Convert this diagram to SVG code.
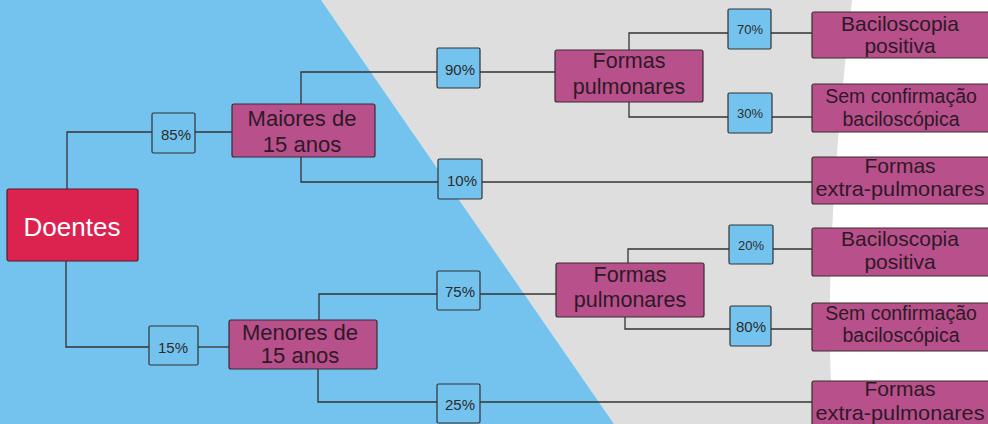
<svg xmlns="http://www.w3.org/2000/svg" width="988" height="424" viewBox="0 0 988 424">
<style>
.lnk{fill:none;stroke:#333;stroke-width:1.3}
.pct{fill:#74c3ef;stroke:#333;stroke-width:1.2}
.pt{font-family:"Liberation Sans",Arial,sans-serif;font-size:15px;fill:#2b2b2b;text-anchor:middle}
.pts{font-size:13px}
.mg{fill:#b8508c;stroke:#3a2a30;stroke-width:1.2}
.mt{font-family:"Liberation Sans",Arial,sans-serif;font-size:21px;fill:#2e1a26;text-anchor:middle}
.ml{font-size:22px}
.mp{font-size:21.5px}
.ms{font-size:19.5px}
</style>
<rect x="0" y="0" width="988" height="424" fill="#ffffff"/>
<path d="M321,0 H852 C838,120 822,300 834,424 H614 Z" fill="#dedede"/>
<path d="M0,0 H321 L614,424 H0 Z" fill="#74c3ef"/>
<g id="connectors">
<path class="lnk" d="M67,189 V132 H152"/>
<path class="lnk" d="M195,132 H232"/>
<path class="lnk" d="M301,104 V72 H437"/>
<path class="lnk" d="M480,72 H555"/>
<path class="lnk" d="M629,50 V33 H728"/>
<path class="lnk" d="M771,33 H812"/>
<path class="lnk" d="M629,102 V117 H728"/>
<path class="lnk" d="M772,117 H812"/>
<path class="lnk" d="M301,157 V182 H438"/>
<path class="lnk" d="M482,182 H812"/>
<path class="lnk" d="M66,261 V347 H149"/>
<path class="lnk" d="M198,347 H229"/>
<path class="lnk" d="M319,320 V294 H437"/>
<path class="lnk" d="M480,294 H556"/>
<path class="lnk" d="M628,263 V249 H729"/>
<path class="lnk" d="M773,249 H812"/>
<path class="lnk" d="M625,317 V329 H730"/>
<path class="lnk" d="M771,329 H812"/>
<path class="lnk" d="M318,369 V402 H437"/>
<path class="lnk" d="M480,402 H812"/>
</g>
<g id="doentes">
<rect x="7" y="189" width="131" height="72" rx="2" fill="#dc2350" stroke="#5a1a2a" stroke-width="1.2"/>
<text x="72" y="236" font-family="'Liberation Sans',Arial,sans-serif" font-size="26" fill="#ffffff" text-anchor="middle">Doentes</text>
</g>
<g id="p85"><rect class="pct" x="152" y="113" width="43" height="40" rx="1.5"/><text class="pt" x="176" y="140">85%</text></g>
<g id="maiores"><rect class="mg" x="232" y="104" width="143" height="53" rx="2"/><text class="mt ml" x="302" y="126">Maiores de</text><text class="mt ml" x="302" y="152">15 anos</text></g>
<g id="p90"><rect class="pct" x="437" y="48" width="43" height="40" rx="1.5"/><text class="pt" x="460" y="75">90%</text></g>
<g id="p10"><rect class="pct" x="438" y="159" width="44" height="40" rx="1.5"/><text class="pt" x="462" y="186">10%</text></g>
<g id="formas1"><rect class="mg" x="555" y="50" width="148" height="52" rx="2"/><text class="mt mp" x="629" y="68">Formas</text><text class="mt mp" x="629" y="94">pulmonares</text></g>
<g id="p70"><rect class="pct" x="728" y="9" width="43" height="40" rx="1.5"/><text class="pt pts" x="750" y="34">70%</text></g>
<g id="p30"><rect class="pct" x="728" y="93" width="44" height="40" rx="1.5"/><text class="pt pts" x="750" y="118">30%</text></g>
<g id="bacilo1"><rect class="mg" x="812" y="12" width="186" height="46" rx="2"/><text class="mt" x="900" y="31">Baciloscopia</text><text class="mt" x="900" y="53">positiva</text></g>
<g id="sem1"><rect class="mg" x="812" y="84" width="186" height="48" rx="2"/><text class="mt ms" x="901" y="103">Sem confirmação</text><text class="mt ms" x="901" y="126">baciloscópica</text></g>
<g id="extra1"><rect class="mg" x="812" y="157" width="186" height="47" rx="2"/><text class="mt" x="900" y="173">Formas</text><text class="mt" x="900" y="196" textLength="169" lengthAdjust="spacingAndGlyphs">extra-pulmonares</text></g>
<g id="p15"><rect class="pct" x="149" y="326" width="49" height="39" rx="1.5"/><text class="pt" x="173" y="353">15%</text></g>
<g id="menores"><rect class="mg" x="229" y="320" width="148" height="49" rx="2"/><text class="mt ml" x="300" y="340">Menores de</text><text class="mt ml" x="300" y="363">15 anos</text></g>
<g id="p75"><rect class="pct" x="437" y="271" width="43" height="39" rx="1.5"/><text class="pt" x="460" y="297">75%</text></g>
<g id="p25"><rect class="pct" x="437" y="384" width="43" height="39" rx="1.5"/><text class="pt" x="460" y="410">25%</text></g>
<g id="formas2"><rect class="mg" x="556" y="263" width="148" height="54" rx="2"/><text class="mt mp" x="630" y="282">Formas</text><text class="mt mp" x="630" y="307">pulmonares</text></g>
<g id="p20"><rect class="pct" x="729" y="225" width="44" height="39" rx="1.5"/><text class="pt pts" x="751" y="250">20%</text></g>
<g id="p80"><rect class="pct" x="730" y="306" width="41" height="40" rx="1.5"/><text class="pt" x="751" y="332">80%</text></g>
<g id="bacilo2"><rect class="mg" x="812" y="228" width="186" height="48" rx="2"/><text class="mt" x="900" y="246">Baciloscopia</text><text class="mt" x="900" y="269">positiva</text></g>
<g id="sem2"><rect class="mg" x="812" y="303" width="186" height="48" rx="2"/><text class="mt ms" x="901" y="320">Sem confirmação</text><text class="mt ms" x="901" y="342">baciloscópica</text></g>
<g id="extra2"><rect class="mg" x="812" y="381" width="186" height="50" rx="2"/><text class="mt" x="900" y="396">Formas</text><text class="mt" x="900" y="420" textLength="169" lengthAdjust="spacingAndGlyphs">extra-pulmonares</text></g>
</svg>
